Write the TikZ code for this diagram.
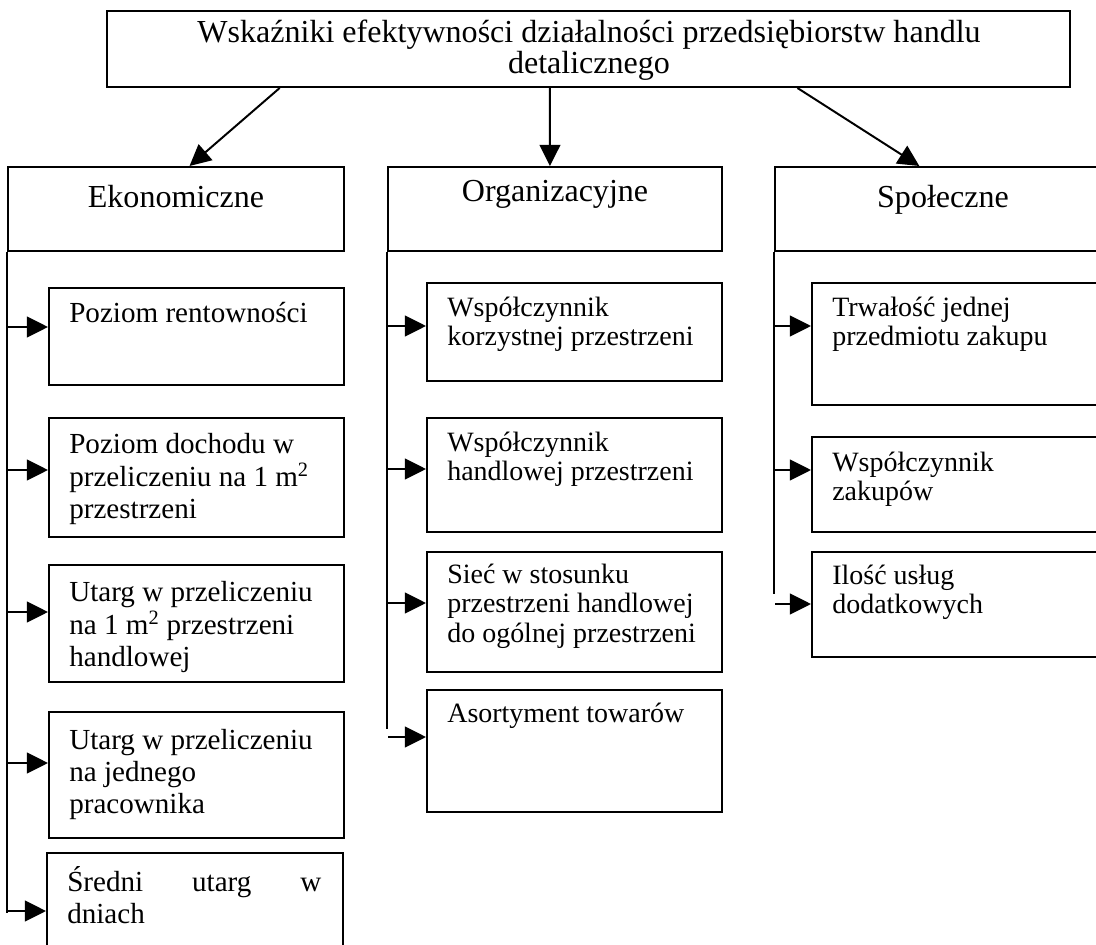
\documentclass[tikz,border=0pt]{standalone}
\usepackage{fontspec}
\setmainfont{Liberation Serif}
\usetikzlibrary{arrows.meta,calc}

% lines of a box text, baseline on the first line
\newcommand{\itemlines}[1]{\begin{tabular}[t]{@{}l@{}}#1\end{tabular}}
\newcommand{\headlines}[1]{\begin{tabular}[t]{@{}c@{}}#1\end{tabular}}

\begin{document}
\begin{tikzpicture}[
    box/.style={rectangle, draw=black, line width=1.4pt, inner sep=0pt},
    headbox/.style={box, minimum width=24.075cm, minimum height=1.9cm},
    groupbox/.style={box, minimum width=8.4cm, minimum height=2.1cm},
    itembox/.style={box, minimum width=7.375cm},
    headtext/.style={inner sep=0pt, anchor=base, font=\fontsize{22.8}{20.6}\selectfont},
    grouptext/.style={inner sep=0pt, anchor=base, font=\fontsize{22.8}{24}\selectfont},
    itemtext/.style={inner sep=0pt, anchor=base west, font=\fontsize{19.9}{21.3}\selectfont},
    ekontext/.style={itemtext, font=\fontsize{20.7}{22.8}\selectfont},
    link/.style={line width=1.4pt},
    arr/.style={link, -{Triangle[length=0.53cm, width=0.52cm]}}
]
\clip (0,0) rectangle (27.4,-23.625);

% Top
\node[headbox] (top) at (14.7125,-1.225) {};
\node[headtext] (toptext) at (14.725,-1.075) {\headlines{Wskaźniki efektywności działalności przedsiębiorstw handlu\\detalicznego}};

% Groups
\node[groupbox] (ekon) at (4.4,-5.225) {};
\node[grouptext] (ekontitle) at ($(ekon.north)+(0,-1.025)$) {Ekonomiczne};
\node[groupbox, minimum width=8.35cm] (org) at (13.875,-5.225) {};
\node[grouptext] (orgtitle) at ($(org.north)+(0,-0.875)$) {Organizacyjne};
\node[groupbox] (spol) at (23.575,-5.225) {};
\node[grouptext] (spoltitle) at ($(spol.north)+(0,-1.025)$) {Społeczne};

\draw[arr] ($(top.south west)!0.18!(top.south east)$) -- ($(ekon.north west)!0.54!(ekon.north east)$);
\draw[arr] ($(top.south west)!0.46!(top.south east)$) -- ($(org.north west)!0.485!(org.north east)$);
\draw[arr] ($(top.south west)!0.7165!(top.south east)$) -- ($(spol.north west)!0.43!(spol.north east)$);

% Ekonomiczne
\node[itembox, minimum height=2.425cm] (e1) at (4.9125,-8.4125) {};
\node[ekontext] at ($(e1.north west)+(0.525,-0.875)$) {\itemlines{Poziom rentowności}};
\node[itembox, minimum height=2.975cm] (e2) at (4.9125,-11.9375) {};
\node[ekontext] at ($(e2.north west)+(0.525,-0.9)$) {\itemlines{Poziom dochodu w\\przeliczeniu na 1 m\textsuperscript{2}\\przestrzeni}};
\node[itembox, minimum height=2.925cm] (e3) at (4.9125,-15.5875) {};
\node[ekontext] at ($(e3.north west)+(0.525,-0.925)$) {\itemlines{Utarg w przeliczeniu\\na 1 m\textsuperscript{2} przestrzeni\\handlowej}};
\node[itembox, minimum height=3.15cm] (e4) at (4.9125,-19.375) {};
\node[ekontext] at ($(e4.north west)+(0.525,-0.95)$) {\itemlines{Utarg w przeliczeniu\\na jednego\\pracownika}};
\node[itembox, minimum width=7.4cm, minimum height=2.675cm] (e5) at (4.875,-22.6625) {};
\node[ekontext] at ($(e5.north west)+(0.525,-0.975)$) {\itemlines{\makebox[6.35cm][s]{Średni \hfill utarg \hfill w}\\dniach}};

\draw[link] (ekon.south west) -- ++(0,-16.525);
\coordinate (e1a) at (0.2,-8.175);
\coordinate (e2a) at (0.2,-11.75);
\coordinate (e3a) at (0.2,-15.3);
\coordinate (e4a) at (0.2,-19.075);
\coordinate (e5a) at (0.2,-22.775);
\draw[arr] (e1a) -- (e1a -| e1.west);
\draw[arr] (e2a) -- (e2a -| e2.west);
\draw[arr] (e3a) -- (e3a -| e3.west);
\draw[arr] (e4a) -- (e4a -| e4.west);
\draw[arr] (e5a) -- (e5a -| e5.west);

% Organizacyjne
\node[itembox, minimum height=2.45cm] (o1) at (14.3625,-8.3) {};
\node[itemtext] at ($(o1.north west)+(0.525,-0.85)$) {\itemlines{Współczynnik\\korzystnej przestrzeni}};
\node[itembox, minimum height=2.85cm] (o2) at (14.3625,-11.875) {};
\node[itemtext] at ($(o2.north west)+(0.525,-0.85)$) {\itemlines{Współczynnik\\handlowej przestrzeni}};
\node[itembox, minimum height=3cm] (o3) at (14.3625,-15.3) {};
\node[itemtext] at ($(o3.north west)+(0.525,-0.8)$) {\itemlines{Sieć w stosunku\\przestrzeni handlowej\\do ogólnej przestrzeni}};
\node[itembox, minimum height=3.05cm] (o4) at (14.3625,-18.775) {};
\node[itemtext] at ($(o4.north west)+(0.525,-0.825)$) {\itemlines{Asortyment towarów}};

\draw[link] (org.south west) -- ++(0,-11.925);
\coordinate (o1a) at (9.7,-8.15);
\coordinate (o2a) at (9.7,-11.725);
\coordinate (o3a) at (9.7,-15.075);
\coordinate (o4a) at (9.7,-18.425);
\draw[arr] (o1a) -- (o1a -| o1.west);
\draw[arr] (o2a) -- (o2a -| o2.west);
\draw[arr] (o3a) -- (o3a -| o3.west);
\draw[arr] (o4a) -- (o4a -| o4.west);

% Spoleczne
\node[itembox, minimum height=3.05cm] (s1) at (23.9875,-8.6) {};
\node[itemtext] at ($(s1.north west)+(0.525,-0.85)$) {\itemlines{Trwałość jednej\\przedmiotu zakupu}};
\node[itembox, minimum height=2.375cm] (s2) at (23.9875,-12.1125) {};
\node[itemtext] at ($(s2.north west)+(0.525,-0.875)$) {\itemlines{Współczynnik\\zakupów}};
\node[itembox, minimum height=2.625cm] (s3) at (23.9875,-15.1125) {};
\node[itemtext] at ($(s3.north west)+(0.525,-0.825)$) {\itemlines{Ilość usług\\dodatkowych}};

\draw[link] (spol.south west) -- ++(0,-8.55);
\coordinate (s1a) at (19.375,-8.15);
\coordinate (s2a) at (19.375,-11.75);
\coordinate (s3a) at (19.375,-15.1);
\draw[arr] (s1a) -- (s1a -| s1.west);
\draw[arr] (s2a) -- (s2a -| s2.west);
\draw[arr] (s3a) -- (s3a -| s3.west);

\end{tikzpicture}
\end{document}
